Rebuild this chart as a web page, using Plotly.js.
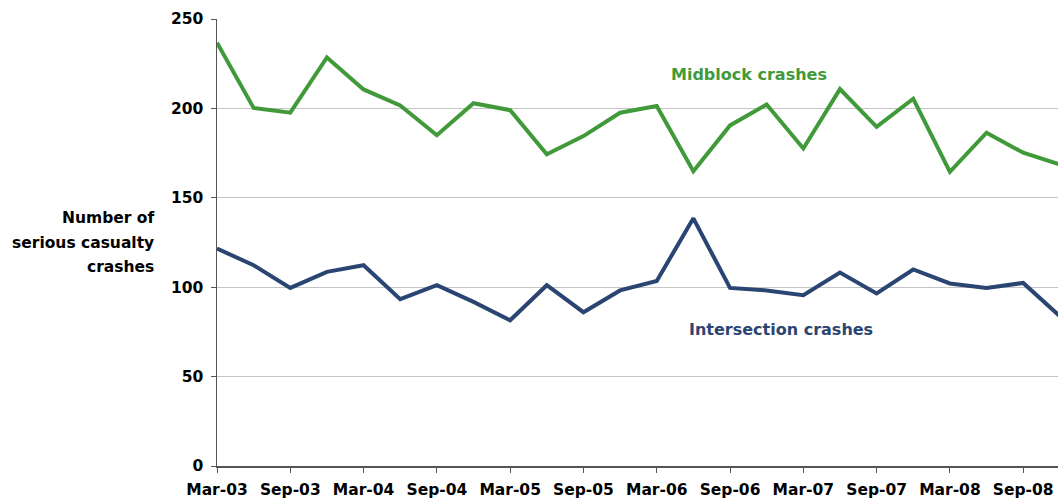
<!DOCTYPE html>
<html>
<head>
<meta charset="utf-8">
<script src="https://cdn.plot.ly/plotly-3.0.1.min.js"></script>
<style>
  html, body { margin: 0; padding: 0; background: #fff; }
  #chart { width: 1058px; height: 502px; }
</style>
</head>
<body>
<div id="chart"></div>
<script>
// Quarterly periods, Mar-03 to Dec-08
const quarters = ["Mar-03","Jun-03","Sep-03","Dec-03","Mar-04","Jun-04","Sep-04","Dec-04",
                  "Mar-05","Jun-05","Sep-05","Dec-05","Mar-06","Jun-06","Sep-06","Dec-06",
                  "Mar-07","Jun-07","Sep-07","Dec-07","Mar-08","Jun-08","Sep-08","Dec-08"];
const midblock = [236.7, 200.3, 197.6, 228.5, 210.6, 201.7, 185, 202.9,
                  199, 174.4, 184.5, 197.6, 201.3, 164.9, 190.5, 202.2,
                  177.6, 210.8, 189.7, 205.4, 164.5, 186.4, 175.2, 168.6];
const intersection = [121.6, 112.3, 99.6, 108.6, 112.3, 93.3, 101.1, 91.8,
                      81.5, 101.1, 86, 98.2, 103.5, 138.5, 99.6, 98.2,
                      95.5, 108.2, 96.5, 109.9, 102.1, 99.6, 102.4, 83.8];
const tickLabels = ["Mar-03","Sep-03","Mar-04","Sep-04","Mar-05","Sep-05",
                    "Mar-06","Sep-06","Mar-07","Sep-07","Mar-08","Sep-08"];
const yTitleLines = ["Number of", "serious casualty", "crashes"];

const xIdx = quarters.map((q, i) => i);
const tickVals = tickLabels.map(t => quarters.indexOf(t));

const GREEN = "#419a3a";
const BLUE = "#2b4572";
const FONT = "DejaVu Sans, Liberation Sans, Arial, sans-serif";

const traces = [
  { x: xIdx, y: midblock, type: "scatter", mode: "lines", name: "Midblock crashes",
    line: { color: GREEN, width: 4 }, hoverinfo: "skip" },
  { x: xIdx, y: intersection, type: "scatter", mode: "lines", name: "Intersection crashes",
    line: { color: BLUE, width: 4 }, hoverinfo: "skip" }
];

const annotations = [
  { x: 14.52, y: 218.7, xref: "x", yref: "y", text: "<b>Midblock crashes</b>", showarrow: false,
    font: { family: FONT, size: 16, color: GREEN }, xanchor: "center", yanchor: "middle" },
  { x: 15.38, y: 76.5, xref: "x", yref: "y", text: "<b>Intersection crashes</b>", showarrow: false,
    font: { family: FONT, size: 16, color: BLUE }, xanchor: "center", yanchor: "middle" }
];
const titleYpx = [218.5, 243.3, 266.7];
yTitleLines.forEach((t, i) => {
  annotations.push({
    x: (156 - 217) / 841, y: (466 - titleYpx[i]) / 447, xref: "paper", yref: "paper",
    text: "<b>" + t + "</b>", showarrow: false, xanchor: "right", yanchor: "middle", align: "right",
    font: { family: FONT, size: 15.5, color: "#000" }
  });
});

const layout = {
  width: 1058, height: 502,
  margin: { l: 217, r: 0, t: 19, b: 36, pad: 0 },
  paper_bgcolor: "#fff", plot_bgcolor: "#fff",
  showlegend: false,
  font: { family: FONT, color: "#000" },
  xaxis: {
    range: [0, 22.95], tickmode: "array", tickvals: tickVals, ticktext: tickLabels,
    showgrid: false, zeroline: false, showline: true, linecolor: "#555", linewidth: 1.5,
    ticks: "outside", ticklen: 5, tickcolor: "#555", tickwidth: 1,
    ticklabelstandoff: 4,
    tickfont: { family: FONT, size: 15.5, color: "#000", weight: "bold" },
    fixedrange: true
  },
  yaxis: {
    range: [0, 250], tickmode: "array", tickvals: [0, 50, 100, 150, 200, 250],
    showgrid: true, gridcolor: "#c4c4c4", gridwidth: 1,
    zeroline: false, showline: true, linecolor: "#555", linewidth: 1.5,
    ticks: "outside", ticklen: 5, tickcolor: "#555", tickwidth: 1,
    ticklabelstandoff: 4,
    tickfont: { family: FONT, size: 15.5, color: "#000", weight: "bold" },
    fixedrange: true
  },
  annotations: annotations
};

Plotly.newPlot("chart", traces, layout, { staticPlot: true, displayModeBar: false });
</script>
</body>
</html>
